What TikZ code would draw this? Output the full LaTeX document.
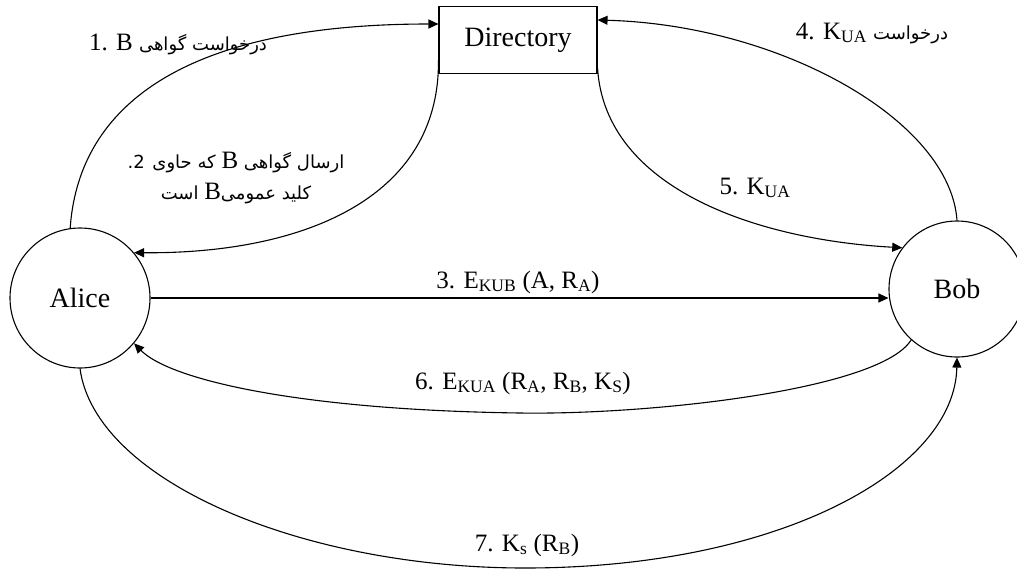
\documentclass[tikz,border=0pt]{standalone}
\usepackage{fontspec}
\setmainfont{Liberation Serif}
\newfontfamily\arabicfont[Script=Arabic]{DejaVu Sans}
\TeXXeTstate=1
\usetikzlibrary{arrows.meta}
\begin{document}
\begin{tikzpicture}[x=1pt,y=-1pt,
  conn/.style={-{Triangle[length=10pt,width=9pt]},line width=1.1pt},
  lbl/.style={font=\fontsize{25}{28}\selectfont,inner sep=0pt},
  fa/.style={font=\arabicfont\fontsize{18}{31}\selectfont,inner sep=0pt}]
\useasboundingbox (0,0) rectangle (1017,571);
\node[draw,line width=1.1pt,minimum width=158,minimum height=67,font=\fontsize{28}{30}\selectfont] (dir) at (518,40) {Directory};
\node[draw,circle,line width=1.1pt,minimum size=140,inner sep=0pt,font=\fontsize{28}{30}\selectfont] (alice) at (80,298) {Alice};
\node[draw,circle,line width=1.1pt,minimum size=136,inner sep=0pt,font=\fontsize{28}{30}\selectfont] (bob) at (957,289) {Bob};
% 1
\draw[conn] (alice.98) .. controls (78,115) and (170,24) .. (dir.west|-0,24);
\node[lbl] (l1) at (178,44) {1. B {\arabicfont\fontsize{18}{20}\selectfont\beginR درخواست گواهی\endR}};
% 2
\draw[conn] (dir.west|-0,60) .. controls (440,200) and (300,254) .. (alice.40);
\node[fa,align=center] (l2) at (236,178) {2. \beginR ارسال گواهی {\rmfamily\fontsize{25}{28}\selectfont B} که حاوی\endR\\ \beginR کلید عمومی{\rmfamily\fontsize{25}{28}\selectfont B} است\endR};
% 3
\draw[conn] (alice.east) -- (bob.west|-alice.east);
\node[lbl] (l3) at (518,282) {3. E\textsubscript{KUB} (A, R\textsubscript{A})};
% 4
\draw[conn] (bob.90) .. controls (950,120) and (780,25) .. (dir.east|-0,20);
\node[lbl] (l4) at (872,33) {4. K\textsubscript{UA} {\arabicfont\fontsize{18}{20}\selectfont\beginR درخواست\endR}};
% 5
\draw[conn] (dir.east|-0,68) .. controls (605,190) and (760,240) .. (bob.143);
\node[lbl] (l5) at (755,188) {5. K\textsubscript{UA}};
% 6
\draw[conn] (bob.228) .. controls (880,390) and (650,415) .. (520,413) .. controls (300,410) and (170,380) .. (alice.-40);
\node[lbl] (l6) at (523,383) {6. E\textsubscript{KUA} (R\textsubscript{A}, R\textsubscript{B}, K\textsubscript{S})};
% 7
\draw[conn] (alice.south) .. controls (95,480) and (300,568) .. (525,568) .. controls (780,568) and (955,470) .. (bob.south);
\node[lbl] (l7) at (527,545) {7. K\textsubscript{s} (R\textsubscript{B})};
\end{tikzpicture}
\end{document}
